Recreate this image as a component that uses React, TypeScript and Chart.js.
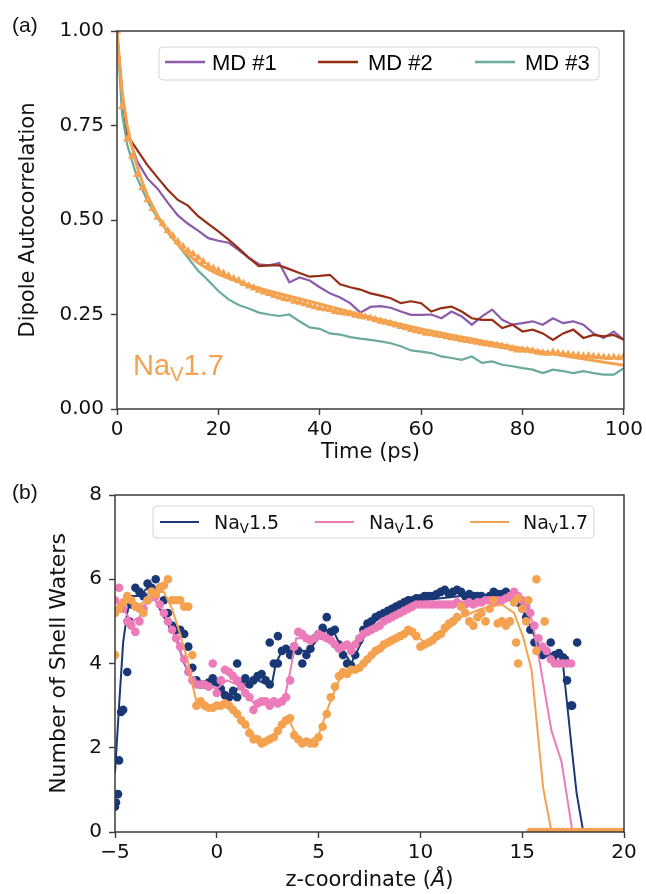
import React, { useEffect, useRef } from "react";
import { Chart, registerables } from "chart.js";

Chart.register(...registerables);

// ---------------- Panel (a): dipole autocorrelation ----------------
const timeMD = [0, 1, 2, 4, 6, 8, 10, 12, 14, 16, 18, 20, 22, 24, 26, 28, 30, 32, 34, 36, 38, 40, 42, 44, 46, 48, 50,
  52, 54, 56, 58, 60, 62, 64, 66, 68, 70, 72, 74, 76, 78, 80, 82, 84, 86, 88, 90, 92, 94, 96, 98, 100];
const md1 = [1.0, 0.83, 0.73, 0.655, 0.61, 0.583, 0.546, 0.512, 0.49, 0.472, 0.452, 0.445, 0.44, 0.42, 0.4, 0.383,
  0.38, 0.386, 0.335, 0.348, 0.34, 0.322, 0.306, 0.295, 0.28, 0.255, 0.27, 0.272, 0.268, 0.258, 0.249, 0.249, 0.25,
  0.24, 0.258, 0.245, 0.223, 0.245, 0.263, 0.236, 0.223, 0.227, 0.232, 0.223, 0.24, 0.227, 0.232, 0.223, 0.2, 0.188,
  0.205, 0.183];
const md2 = [1.0, 0.84, 0.725, 0.685, 0.645, 0.612, 0.58, 0.553, 0.538, 0.51, 0.49, 0.47, 0.448, 0.425, 0.4, 0.378,
  0.38, 0.38, 0.37, 0.36, 0.35, 0.352, 0.355, 0.33, 0.322, 0.316, 0.306, 0.3, 0.293, 0.28, 0.285, 0.28, 0.258, 0.267,
  0.271, 0.258, 0.24, 0.236, 0.236, 0.214, 0.223, 0.205, 0.21, 0.2, 0.183, 0.2, 0.21, 0.188, 0.196, 0.192, 0.196,
  0.183];
const md3 = [1.0, 0.78, 0.7, 0.61, 0.55, 0.505, 0.468, 0.435, 0.4, 0.366, 0.34, 0.312, 0.29, 0.275, 0.266, 0.255,
  0.25, 0.246, 0.25, 0.232, 0.216, 0.212, 0.2, 0.197, 0.19, 0.186, 0.183, 0.179, 0.174, 0.166, 0.155, 0.152, 0.148,
  0.139, 0.135, 0.13, 0.139, 0.122, 0.126, 0.117, 0.113, 0.108, 0.104, 0.095, 0.104, 0.1, 0.095, 0.1, 0.095, 0.091,
  0.091, 0.108];

const timeAvg = [0, 1, 2, 3, 4, 5, 6, 7, 8, 9, 10, 11, 12, 13, 14, 15, 16, 17, 18, 19, 20, 21, 22, 23, 24, 25, 26, 27,
  28, 29, 30, 31, 32, 33, 34, 35, 36, 37, 38, 39, 40, 41, 42, 43, 44, 45, 46, 47, 48, 49, 50, 51, 52, 53, 54, 55, 56,
  57, 58, 59, 60, 61, 62, 63, 64, 65, 66, 67, 68, 69, 70, 71, 72, 73, 74, 75, 76, 77, 78, 79, 80, 81, 82, 83, 84, 85,
  86, 87, 88, 89, 90, 91, 92, 93, 94, 95, 96, 97, 98, 99, 100];
const avgNav17 = [1.0, 0.8, 0.714, 0.668, 0.62, 0.585, 0.553, 0.53, 0.507, 0.49, 0.472, 0.458, 0.442, 0.43, 0.418,
  0.41, 0.4, 0.39, 0.379, 0.372, 0.366, 0.359, 0.352, 0.345, 0.34, 0.332, 0.325, 0.32, 0.314, 0.309, 0.305, 0.3,
  0.296, 0.292, 0.29, 0.285, 0.282, 0.278, 0.274, 0.27, 0.267, 0.265, 0.262, 0.258, 0.256, 0.254, 0.252, 0.248, 0.245,
  0.243, 0.24, 0.236, 0.232, 0.229, 0.226, 0.222, 0.218, 0.215, 0.21, 0.207, 0.204, 0.2, 0.199, 0.196, 0.194, 0.191,
  0.188, 0.186, 0.183, 0.181, 0.179, 0.176, 0.174, 0.172, 0.17, 0.168, 0.165, 0.163, 0.159, 0.156, 0.156, 0.155,
  0.153, 0.15, 0.148, 0.147, 0.15, 0.148, 0.146, 0.145, 0.143, 0.142, 0.14, 0.141, 0.139, 0.138, 0.137, 0.136, 0.137,
  0.135, 0.14];

const timeFit = [0, 1, 2, 3, 4, 5, 6, 8, 10, 12, 14, 16, 18, 20, 25, 30, 35, 40, 45, 50, 55, 60, 65, 70, 75, 80, 85,
  90, 95, 100];
const fitNav17 = [1.0, 0.84, 0.75, 0.69, 0.64, 0.6, 0.565, 0.51, 0.468, 0.435, 0.408, 0.387, 0.37, 0.356, 0.331, 0.312,
  0.295, 0.278, 0.26, 0.243, 0.227, 0.212, 0.198, 0.185, 0.172, 0.16, 0.148, 0.137, 0.126, 0.116];

const xTicksA = [0, 20, 40, 60, 80, 100];
const xTickLabelsA = ["0", "20", "40", "60", "80", "100"];
const yTicksA = [0, 0.25, 0.5, 0.75, 1.0];
const yTickLabelsA = ["0.00", "0.25", "0.50", "0.75", "1.00"];
const legendA = ["MD #1", "MD #2", "MD #3"];

// ---------------- Panel (b): shell waters ----------------
const zGrid = [-5.0, -4.8, -4.6, -4.4, -4.2, -4.0, -3.8, -3.6, -3.4, -3.2,
  -3.0, -2.8, -2.6, -2.4, -2.2, -2.0, -1.8, -1.6, -1.4, -1.2,
  -1.0, -0.8, -0.6, -0.4, -0.2, 0.0, 0.2, 0.4, 0.6, 0.8,
  1.0, 1.2, 1.4, 1.6, 1.8, 2.0, 2.2, 2.4, 2.6, 2.8,
  3.0, 3.2, 3.4, 3.6, 3.8, 4.0, 4.2, 4.4, 4.6, 4.8,
  5.0, 5.2, 5.4, 5.6, 5.8, 6.0, 6.2, 6.4, 6.6, 6.8,
  7.0, 7.2, 7.4, 7.6, 7.8, 8.0, 8.2, 8.4, 8.6, 8.8,
  9.0, 9.2, 9.4, 9.6, 9.8, 10.0, 10.2, 10.4, 10.6, 10.8,
  11.0, 11.2, 11.4, 11.6, 11.8, 12.0, 12.2, 12.4, 12.6, 12.8,
  13.0, 13.2, 13.4, 13.6, 13.8, 14.0, 14.2, 14.4, 14.6, 14.8,
  15.0, 15.2, 15.4, 15.6, 15.8, 16.0, 16.2, 16.4, 16.6, 16.8,
  17.0, 17.2, 17.4];

const dots15 = [0.6, 1.7, 2.9, 3.8, 5.4, 5.8, 5.7, 5.6, 5.9, 5.8,
  6.0, 5.8, 5.5, 5.2, 4.9, 4.8, 4.8, 4.7, 4.4, 3.9,
  3.6, 3.5, 3.5, 3.55, 3.65, 3.55, 3.4, 3.25, 3.2, 3.35,
  3.2, 3.5, 3.65, 3.5, 3.6, 3.7, 3.75, 3.6, 3.5, 4.0,
  4.65, 4.3, 4.35, 4.2, 4.4, 4.3, 4.0, 4.2, 4.35, 4.6,
  4.7, 4.85, 5.1, 4.75, 4.8, 4.45, 4.2, 4.0, 3.95, 4.2,
  4.55, 4.8, 4.95, 5.0, 5.1, 5.15, 5.2, 5.25, 5.3, 5.35,
  5.4, 5.45, 5.5, 5.5, 5.55, 5.55, 5.6, 5.6, 5.6, 5.65,
  5.7, 5.75, 5.65, 5.7, 5.75, 5.7, 5.6, 5.65, 5.6, 5.6,
  5.6, 5.55, 5.6, 5.7, 5.65, 5.65, 5.7, 5.6, 5.5, 5.45,
  5.3, 5.1, 4.8, 4.5, 4.3, 4.2, 4.25, 4.5, 4.2, 4.25,
  4.15, 3.6, 3.0];
const dots16 = [5.5, 5.8, 5.3, 5.0, 4.9, 4.75, 5.0, 5.3, 5.5, 5.7,
  5.6, 5.4, 5.2, 5.0, 4.8, 4.6, 4.4, 4.1, 3.8, 3.6,
  3.5, 3.5, 3.5, 3.45, 4.0, 3.3, 3.6, 3.85, 3.8, 3.7,
  3.6, 3.45, 3.3, 3.2, 2.9, 3.05, 3.1, 3.1, 3.0, 3.1,
  3.05, 3.1, 3.2, 3.6, 4.4, 4.75, 4.7, 4.6, 4.55, 4.6,
  4.7, 4.65, 4.6, 4.55, 4.45, 4.35, 4.4, 4.45, 4.3, 4.45,
  4.6, 4.7, 4.75, 4.8, 4.85, 4.9, 5.0, 5.05, 5.1, 5.15,
  5.2, 5.25, 5.3, 5.35, 5.4, 5.4, 5.4, 5.4, 5.4, 5.4,
  5.4, 5.4, 5.4, 5.4, 5.45, 5.4, 5.4, 5.45, 5.4, 5.45,
  5.45, 5.5, 5.5, 5.45, 5.5, 5.5, 5.55, 5.6, 5.7, 5.6,
  5.5, 5.35, 5.2, 4.9, 4.6, 4.4, 4.3, 4.1, 4.0, 4.0,
  4.0, 4.0, 4.0];
const dots17 = [5.2, 5.3, 5.45, 5.6, 5.5, 5.35, 5.3, 5.2, 5.5, 5.7,
  5.65, 5.8, 5.85, 6.0, 5.5, 5.5, 5.5, 5.35, 5.35, 4.2,
  3.0, 3.1, 3.0, 2.95, 2.95, 3.0, 3.0, 3.05, 3.0, 2.9,
  2.8, 2.65, 2.55, 2.35, 2.2, 2.2, 2.1, 2.15, 2.2, 2.25,
  2.4, 2.55, 2.65, 2.7, 2.3, 2.2, 2.1, 2.15, 2.1, 2.1,
  2.25, 2.5, 2.8, 3.2, 3.45, 3.7, 3.8, 3.75, 3.85, 3.85,
  3.9, 4.0, 4.1, 4.2, 4.3, 4.35, 4.45, 4.5, 4.55, 4.6,
  4.65, 4.7, 4.8, 4.75, 4.65, 4.4, 4.45, 4.5, 4.55, 4.65,
  4.7, 4.85, 4.95, 5.0, 5.1, 5.35, 5.2, 5.0, 4.9, 5.1,
  5.2, 5.0, 5.3, 5.5, 4.95, 5.0, 4.9, 5.0, 5.45, 5.55,
  5.3, 5.0, 0, 0, 0, 0, 0, 0, 0, 0,
  0, 0, 0];

const extraZ15 = [-4.95, -4.85, -4.7, -4.3, 1.0, 2.6, 3.0, 17.1, 17.45, 17.7];
const extraN15 = [0.7, 0.9, 2.85, 5.0, 4.0, 4.5, 4.0, 4.1, 3.0, 4.5];
const extraZ17 = [-5.0, 14.7, 14.8, 15.3, 15.7, 15.7, 16.1,
  17.6, 17.8, 18.0, 18.2, 18.4, 18.6, 18.8, 19.0, 19.2, 19.4, 19.6, 19.8, 20.0];
const extraN17 = [4.2, 4.5, 4.0, 5.5, 6.0, 4.3, 5.0,
  0, 0, 0, 0, 0, 0, 0, 0, 0, 0, 0, 0, 0];

const lineZ15 = [-5.0, -4.8, -4.6, -4.4, -4.2, -4.0, -3.8, -3.6, -3.4, -3.2, -3.0, -2.6, -2.2, -2.0, -1.8, -1.6, -1.4,
  -1.2, -1.0, -0.5, 0.0, 0.3, 0.6, 1.0, 1.5, 2.0, 2.5, 2.7, 2.9, 3.2, 3.6, 4.0, 4.5, 5.0, 5.4, 5.8, 6.2, 6.6, 7.0, 7.5,
  8.0, 9.0, 10.0, 11.0, 12.0, 13.0, 14.0, 14.5, 15.0, 15.4, 15.8, 16.2, 16.6, 17.0, 17.15, 17.43, 17.67, 18.0, 20.0];
const lineN15 = [1.4, 3.0, 4.5, 5.2, 5.6, 5.6, 5.6, 5.7, 5.8, 5.6, 5.5, 5.1, 4.9, 4.7, 4.3, 4.0, 3.8, 3.6, 3.5, 3.5,
  3.5, 3.3, 3.2, 3.4, 3.5, 3.6, 3.5, 3.5, 4.0, 4.3, 4.3, 4.3, 4.3, 4.6, 4.8, 4.7, 4.3, 4.0, 4.4, 4.9, 5.1, 5.35, 5.5,
  5.55, 5.6, 5.6, 5.6, 5.5, 5.3, 4.9, 4.4, 4.2, 4.1, 4.0, 3.3, 2.0, 0.93, 0, 0];
const lineZ16 = [-5.0, -4.6, -4.2, -3.8, -3.4, -3.0, -2.6, -2.2, -1.8, -1.4, -1.0, -0.5, 0.0, 0.5, 1.0, 1.5, 2.0, 2.5,
  3.0, 3.3, 3.6, 3.9, 4.3, 4.8, 5.2, 5.6, 6.0, 6.5, 7.0, 7.5, 8.0, 9.0, 10.0, 11.0, 12.0, 13.0, 14.0, 14.8, 15.2, 15.5,
  15.87, 16.44, 16.93, 17.47, 20.0];
const lineN16 = [5.5, 5.3, 5.0, 5.1, 5.5, 5.5, 5.2, 4.8, 4.3, 3.8, 3.5, 3.5, 3.4, 3.6, 3.5, 3.2, 3.0, 3.05, 3.1, 3.1,
  3.8, 4.6, 4.6, 4.6, 4.65, 4.55, 4.4, 4.35, 4.55, 4.8, 4.95, 5.25, 5.4, 5.4, 5.4, 5.45, 5.5, 5.55, 5.3, 5.0, 4.0, 2.4,
  1.67, 0, 0];
const lineZ17 = [-5.0, -4.6, -4.2, -3.8, -3.4, -3.0, -2.6, -2.2, -1.8, -1.4, -1.2, -1.0, -0.5, 0.0, 0.5, 1.0, 1.5, 2.0,
  2.5, 3.0, 3.4, 3.6, 4.0, 4.5, 5.0, 5.5, 6.0, 6.5, 7.0, 7.5, 8.0, 9.0, 9.6, 10.2, 11.0, 12.0, 13.0, 14.0, 14.6, 15.04,
  15.46, 16.03, 16.44, 20.0];
const lineN17 = [5.2, 5.4, 5.5, 5.4, 5.5, 5.7, 5.7, 5.3, 4.7, 4.0, 3.5, 3.1, 3.0, 3.0, 3.05, 2.8, 2.5, 2.2, 2.2, 2.4,
  2.65, 2.6, 2.2, 2.15, 2.3, 3.0, 3.6, 3.8, 3.9, 4.1, 4.3, 4.6, 4.75, 4.5, 4.65, 5.1, 5.3, 5.4, 5.2, 4.64, 3.85, 1.04,
  0, 0];

const xTicksB = [-5, 0, 5, 10, 15, 20];
const xTickLabelsB = ["\u22125", "0", "5", "10", "15", "20"];
const yTicksB = [0, 2, 4, 6, 8];
const yTickLabelsB = ["0", "2", "4", "6", "8"];
const legendB = ["1.5", "1.6", "1.7"];

// ---------------- styles ----------------
const C_MD1 = "#8c5aa9";
const C_MD2 = "#962e16";
const C_MD3 = "#6aab9c";
const C_ORANGE = "#f4a24f";
const C_NAVY = "#1b3876";
const C_PINK = "#ec7bba";
const FRAME = "#3a3a3a";
const DV = "'DejaVu Sans', sans-serif";
const ARIAL = "'Liberation Sans', Arial, sans-serif";
const TICK_SIZE = 20;

const pts = (xs: number[], ys: (number | null)[]) =>
  xs.map((x, i) => ({ x, y: ys[i] })).filter((p) => p.y !== null && p.y !== undefined);

function axisOpts(min: number, max: number, ticks: number[], labels: string[], isX: boolean, fitSize: number) {
  return {
    type: "linear" as const,
    min,
    max,
    afterBuildTicks: (s: any) => {
      s.ticks = ticks.map((v) => ({ value: v }));
    },
    afterFit: (s: any) => {
      if (isX) s.height = fitSize;
      else s.width = fitSize;
    },
    ticks: {
      callback: (_v: any, i: number) => labels[i],
      font: { family: DV, size: TICK_SIZE },
      color: "#111",
      padding: isX ? 3 : 7,
      maxRotation: 0,
      autoSkip: false,
    },
    grid: {
      drawOnChartArea: false,
      drawTicks: true,
      tickLength: 6,
      tickWidth: 1.4,
      tickColor: FRAME,
    },
    border: { display: false },
  };
}

function drawNaV(ctx: CanvasRenderingContext2D, x: number, y: number, size: number, family: string, suffix: string) {
  ctx.textBaseline = "alphabetic";
  ctx.textAlign = "left";
  ctx.font = `${size}px ${family}`;
  ctx.fillText("Na", x, y);
  x += ctx.measureText("Na").width;
  const sub = size * 0.7;
  ctx.font = `${sub}px ${family}`;
  ctx.fillText("V", x, y + size * 0.2);
  x += ctx.measureText("V").width;
  ctx.font = `${size}px ${family}`;
  ctx.fillText(suffix, x, y);
}

function legendBox(ctx: CanvasRenderingContext2D, x: number, y: number, w: number, h: number) {
  ctx.beginPath();
  (ctx as any).roundRect(x, y, w, h, 4);
  ctx.fillStyle = "rgba(255,255,255,0.85)";
  ctx.fill();
  ctx.strokeStyle = "#d4d4d4";
  ctx.lineWidth = 1;
  ctx.stroke();
}

function frame(ctx: CanvasRenderingContext2D, a: any) {
  ctx.strokeStyle = FRAME;
  ctx.lineWidth = 1.5;
  ctx.strokeRect(a.left, a.top, a.right - a.left, a.bottom - a.top);
}

const decorA = {
  id: "decorA",
  afterDraw(chart: any) {
    const ctx: CanvasRenderingContext2D = chart.ctx;
    const a = chart.chartArea;
    ctx.save();
    frame(ctx, a);
    const L = a.left;
    const T = a.top;
    legendBox(ctx, L + 42, T + 16, 440, 33);
    const cols = [C_MD1, C_MD2, C_MD3];
    const lineX = [48, 201, 358];
    const textX = [95, 251, 408];
    for (let i = 0; i < 3; i++) {
      ctx.strokeStyle = cols[i];
      ctx.lineWidth = 2.6;
      ctx.beginPath();
      ctx.moveTo(L + lineX[i], T + 31);
      ctx.lineTo(L + lineX[i] + 40, T + 31);
      ctx.stroke();
      ctx.fillStyle = "#000";
      ctx.font = `22px ${ARIAL}`;
      ctx.textAlign = "left";
      ctx.textBaseline = "alphabetic";
      ctx.fillText(legendA[i], L + textX[i], T + 39);
    }
    ctx.fillStyle = C_ORANGE;
    drawNaV(ctx, L + 16, a.bottom - 34, 29, ARIAL, "1.7");
    ctx.fillStyle = "#111";
    ctx.font = `21px ${DV}`;
    ctx.textAlign = "center";
    ctx.textBaseline = "middle";
    ctx.fillText("Time (ps)", (a.left + a.right) / 2, 453);
    ctx.save();
    ctx.translate(29, (a.top + a.bottom) / 2);
    ctx.rotate(-Math.PI / 2);
    ctx.fillText("Dipole Autocorrelation", 0, 0);
    ctx.restore();
    ctx.font = `21px ${ARIAL}`;
    ctx.textAlign = "left";
    ctx.textBaseline = "alphabetic";
    ctx.fillText("(a)", 12, 32);
    ctx.restore();
  },
};

const decorB = {
  id: "decorB",
  afterDraw(chart: any) {
    const ctx: CanvasRenderingContext2D = chart.ctx;
    const a = chart.chartArea;
    ctx.save();
    frame(ctx, a);
    const L = a.left;
    const T = a.top;
    legendBox(ctx, L + 38, T + 11, 441, 32);
    const cols = [C_NAVY, C_PINK, C_ORANGE];
    const lineX = [45, 200, 355];
    const textX = [99, 254, 408];
    for (let i = 0; i < 3; i++) {
      ctx.strokeStyle = cols[i];
      ctx.lineWidth = 1.8;
      ctx.beginPath();
      ctx.moveTo(L + lineX[i], T + 27);
      ctx.lineTo(L + lineX[i] + 39, T + 27);
      ctx.stroke();
      ctx.fillStyle = "#111";
      drawNaV(ctx, L + textX[i], T + 34, 19, DV, legendB[i]);
    }
    ctx.fillStyle = "#111";
    ctx.textAlign = "left";
    ctx.textBaseline = "middle";
    const p1 = "z-coordinate (";
    const p2 = "\u00C5";
    const p3 = ")";
    ctx.font = `21px ${DV}`;
    const w1 = ctx.measureText(p1).width;
    const w3 = ctx.measureText(p3).width;
    ctx.font = `italic 21px ${DV}`;
    const w2 = ctx.measureText(p2).width;
    let x = (a.left + a.right) / 2 - (w1 + w2 + w3) / 2;
    const y = 411;
    ctx.font = `21px ${DV}`;
    ctx.fillText(p1, x, y);
    x += w1;
    ctx.font = `italic 21px ${DV}`;
    ctx.fillText(p2, x, y);
    x += w2;
    ctx.font = `21px ${DV}`;
    ctx.fillText(p3, x, y);

    ctx.save();
    ctx.font = `22px ${DV}`;
    ctx.textAlign = "center";
    ctx.translate(59, (a.top + a.bottom) / 2);
    ctx.rotate(-Math.PI / 2);
    ctx.fillText("Number of Shell Waters", 0, 0);
    ctx.restore();
    ctx.font = `21px ${ARIAL}`;
    ctx.textAlign = "left";
    ctx.textBaseline = "alphabetic";
    ctx.fillText("(b)", 12, 29);
    ctx.restore();
  },
};

function PanelA() {
  const ref = useRef<HTMLCanvasElement>(null);
  useEffect(() => {
    const line = (data: any[], color: string, w: number, order: number) => ({
      data,
      borderColor: color,
      backgroundColor: color,
      borderWidth: w,
      pointRadius: 0,
      tension: 0,
      order,
    });
    const chart = new Chart(ref.current!, {
      type: "line",
      data: {
        datasets: [
          line(pts(timeFit, fitNav17), C_ORANGE, 3, 0),
          {
            data: pts(timeAvg, avgNav17),
            showLine: false,
            pointStyle: "triangle",
            pointRadius: 4.8,
            pointBackgroundColor: C_ORANGE,
            pointBorderColor: C_ORANGE,
            pointBorderWidth: 0,
            order: 1,
          } as any,
          line(pts(timeMD, md3), C_MD3, 2.2, 2),
          line(pts(timeMD, md2), C_MD2, 2.2, 3),
          line(pts(timeMD, md1), C_MD1, 2.2, 4),
        ],
      },
      options: {
        responsive: false,
        animation: false,
        devicePixelRatio: 1,
        layout: { padding: { top: 31, right: 22, bottom: 0, left: 0 } },
        plugins: { legend: { display: false }, tooltip: { enabled: false } },
        scales: {
          x: axisOpts(0, 100, xTicksA, xTickLabelsA, true, 61) as any,
          y: axisOpts(0, 1, yTicksA, yTickLabelsA, false, 117) as any,
        },
      },
      plugins: [decorA],
    });
    return () => chart.destroy();
  }, []);
  return (
    <canvas ref={ref} width={646} height={470}
      style={{ position: "absolute", left: 0, top: 0, width: 646, height: 470 }} />
  );
}

function PanelB() {
  const ref = useRef<HTMLCanvasElement>(null);
  useEffect(() => {
    const line = (data: any[], color: string, order: number) => ({
      data,
      borderColor: color,
      backgroundColor: color,
      borderWidth: 2,
      pointRadius: 0,
      tension: 0,
      order,
    });
    const dots = (data: any[], color: string, order: number) => ({
      data,
      showLine: false,
      pointStyle: "circle",
      pointRadius: 4.3,
      pointBackgroundColor: color,
      pointBorderColor: color,
      pointBorderWidth: 0,
      order,
    });
    const chart = new Chart(ref.current!, {
      type: "line",
      data: {
        datasets: [
          line(pts(lineZ17, lineN17), C_ORANGE, 0),
          dots([...pts(zGrid, dots17), ...pts(extraZ17, extraN17)], C_ORANGE, 1),
          line(pts(lineZ16, lineN16), C_PINK, 2),
          dots(pts(zGrid, dots16), C_PINK, 3),
          line(pts(lineZ15, lineN15), C_NAVY, 4),
          dots([...pts(zGrid, dots15), ...pts(extraZ15, extraN15)], C_NAVY, 5),
        ] as any,
      },
      options: {
        responsive: false,
        animation: false,
        devicePixelRatio: 1,
        layout: { padding: { top: 25, right: 22, bottom: 0, left: 0 } },
        plugins: { legend: { display: false }, tooltip: { enabled: false } },
        scales: {
          x: axisOpts(-5, 20, xTicksB, xTickLabelsB, true, 62) as any,
          y: axisOpts(0, 8, yTicksB, yTickLabelsB, false, 115) as any,
        },
      },
      plugins: [decorB],
    });
    return () => chart.destroy();
  }, []);
  return (
    <canvas ref={ref} width={646} height={424}
      style={{ position: "absolute", left: 0, top: 470, width: 646, height: 424 }} />
  );
}

export default function App() {
  return (
    <div style={{ position: "absolute", left: 0, top: 0, width: 646, height: 894, background: "#fff" }}>
      <PanelA />
      <PanelB />
    </div>
  );
}
